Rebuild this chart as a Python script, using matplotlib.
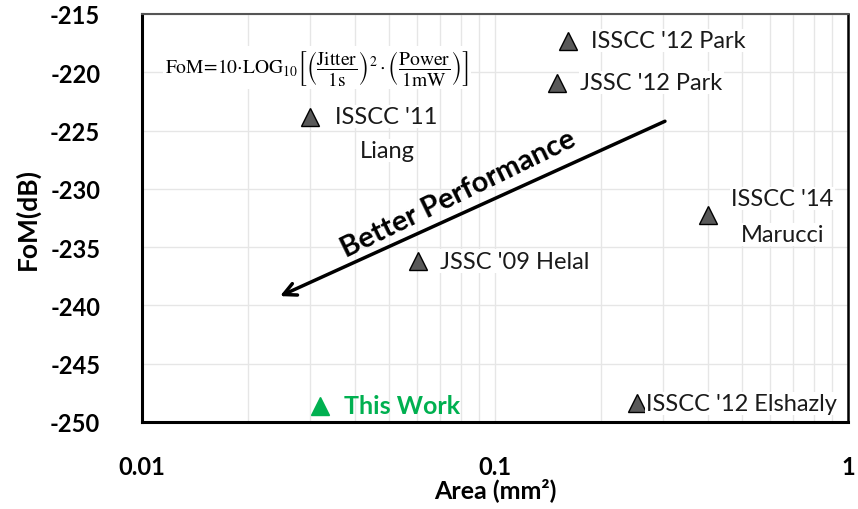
import matplotlib
matplotlib.use("Agg")
import matplotlib.pyplot as plt
from matplotlib.ticker import NullFormatter, LogLocator

plt.rcParams['font.family'] = ['Lato', 'DejaVu Sans']
plt.rcParams['mathtext.fontset'] = 'stix'

# Published designs: area (mm^2) and figure of merit (dB)
labels = ["ISSCC '12 Park", "JSSC '12 Park", "ISSCC '11\nLiang", "ISSCC '14\nMarucci",
          "JSSC '09 Helal", "ISSCC '12 Elshazly"]
area = [0.161, 0.150, 0.030, 0.40, 0.0605, 0.253]
fom = [-217.3, -220.9, -223.8, -232.2, -236.2, -248.4]

# This design
this_label = "This Work"
this_area = 0.032
this_fom = -248.6

y_ticks = [-215, -220, -225, -230, -235, -240, -245, -250]
x_ticks = [0.01, 0.1, 1]
x_tick_labels = ["0.01", "0.1", "1"]

fig = plt.figure(figsize=(8.58, 5.10), dpi=100)
ax = fig.add_axes([142 / 858, 1 - 423 / 510, (848 - 142) / 858, (423 - 15) / 510])

ax.set_xscale('log')
ax.set_xlim(0.01, 1)
ax.set_ylim(-250, -215)

ax.set_yticks(y_ticks)
ax.set_yticklabels([str(v) for v in y_ticks])
ax.set_xticks(x_ticks)
ax.set_xticklabels(x_tick_labels)
ax.xaxis.set_minor_locator(LogLocator(base=10, subs=range(2, 10)))
ax.xaxis.set_minor_formatter(NullFormatter())

ax.tick_params(axis='both', which='both', length=0)
ax.tick_params(axis='y', pad=30, labelsize=17)
ax.tick_params(axis='x', pad=24, labelsize=17)
for t in ax.get_xticklabels() + ax.get_yticklabels():
    t.set_fontweight('bold')

ax.grid(True, which='both', color='#e6e6e6', linewidth=1.0)
ax.set_axisbelow(True)

for side in ('left', 'bottom'):
    ax.spines[side].set_linewidth(2.2)
    ax.spines[side].set_color('black')
ax.spines['top'].set_linewidth(1.5)
ax.spines['top'].set_color('#555555')
ax.spines['right'].set_linewidth(1.8)
ax.spines['right'].set_color('black')

ax.set_ylabel("FoM(dB)", fontsize=19, fontweight='bold')
ax.set_xlabel("Area (mm²)", fontsize=18, fontweight='bold')
ax.yaxis.set_label_coords(-0.145, 0.5)
ax.xaxis.set_label_coords(0.5, -0.135)

ax.plot(area, fom, linestyle='none', marker='^', markersize=13,
        markerfacecolor='#595959', markeredgecolor='black', markeredgewidth=1.0, zorder=3)
ax.plot([this_area], [this_fom], linestyle='none', marker='^', markersize=13,
        markerfacecolor='#00B050', markeredgecolor='#00B050', zorder=3)

txt_kw = dict(fontsize=17, color='#1a1a1a', textcoords='offset pixels', zorder=4)
bg = dict(boxstyle='square,pad=0.05', facecolor='white', edgecolor='none')

ax.annotate(labels[0], (area[0], fom[0]), xytext=(23, 0), ha='left', va='center', bbox=bg, **txt_kw)
ax.annotate(labels[1], (area[1], fom[1]), xytext=(23, 0), ha='left', va='center', bbox=bg, **txt_kw)
line1, line2 = labels[2].split("\n")
ax.annotate(line1, (area[2], fom[2]), xytext=(76, 0), ha='center', va='center', bbox=bg, **txt_kw)
ax.annotate(line2, (area[2], fom[2]), xytext=(77, -34), ha='center', va='center', bbox=bg, **txt_kw)
line1, line2 = labels[3].split("\n")
ax.annotate(line1, (area[3], fom[3]), xytext=(75, 16), ha='center', va='center', bbox=bg, **txt_kw)
ax.annotate(line2, (area[3], fom[3]), xytext=(75, -20), ha='center', va='center', bbox=bg, **txt_kw)
ax.annotate(labels[4], (area[4], fom[4]), xytext=(22, 0), ha='left', va='center', bbox=bg, **txt_kw)
ax.annotate(labels[5], (area[5], fom[5]), xytext=(9, 0), ha='left', va='center', bbox=bg, **txt_kw)
ax.annotate(this_label, (this_area, this_fom), xytext=(24, 0), ha='left', va='center',
            fontsize=18, fontweight='bold', color='#00B050', textcoords='offset pixels', zorder=4)

# Direction of improvement
ax.annotate("", xy=(0.0246, -239.2), xytext=(0.303, -224.2),
            arrowprops=dict(arrowstyle='->,head_length=0.9,head_width=0.45', color='black',
                            linewidth=2.5, shrinkA=0, shrinkB=0), zorder=4)
ax.text(0.0786, -230.4, "Better Performance", fontsize=21, fontweight='bold',
        rotation=26, rotation_mode='anchor', ha='center', va='center', zorder=4)

# Figure-of-merit definition
formula = (r"$\mathrm{FoM\!=\!10{\cdot}LOG_{10}}\left[\left(\dfrac{\mathrm{Jitter}}{\mathrm{1s}}\right)^{2}"
           r"\cdot\left(\dfrac{\mathrm{Power}}{\mathrm{1mW}}\right)\right]$")
ax.text(0.0116, -219.6, formula, fontsize=14, ha='left', va='center',
        bbox=dict(boxstyle='square,pad=0.1', facecolor='white', edgecolor='none'), zorder=4)

fig.savefig("out.png", dpi=100, facecolor='white')
